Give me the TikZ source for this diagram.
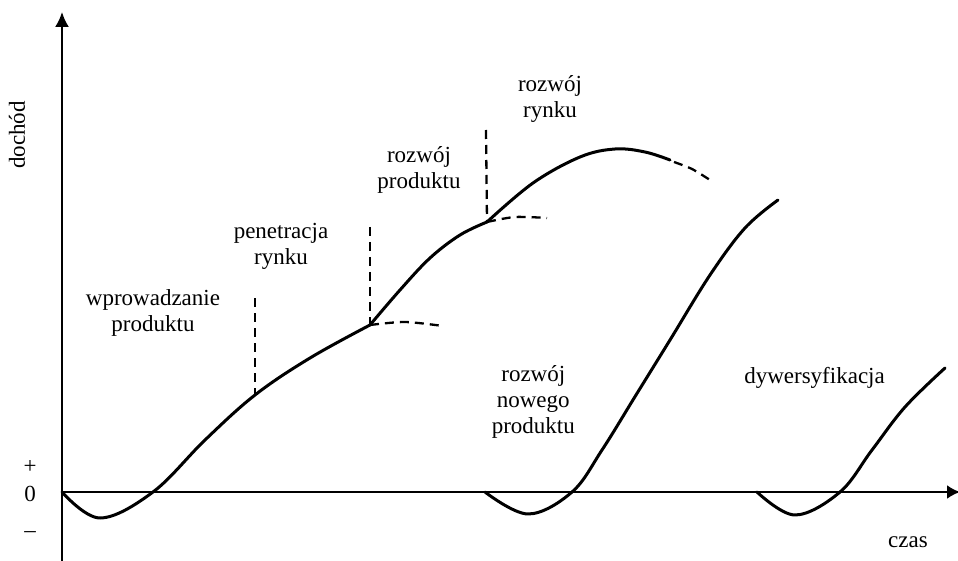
\documentclass[tikz,border=0pt]{standalone}
\usepackage{fontspec}
\setmainfont{Liberation Serif}
\usetikzlibrary{arrows.meta}
\begin{document}
\begin{tikzpicture}[x=1pt,y=-1pt,
  axis/.style={line width=2pt},
  curve/.style={line width=3pt, line join=round, line cap=round},
  guide/.style={line width=2.3pt, dash pattern=on 9pt off 6pt},
  lbl/.style={font=\fontsize{23pt}{26pt}\selectfont, align=center, inner sep=0pt},
]
\useasboundingbox (0,0) rectangle (958,561);
% axes
\coordinate (o) at (62,492);
\coordinate (ytop) at (62,12);
\coordinate (ybot) at (62,561);
\coordinate (xend) at (960,492);
\draw[axis,-{Latex[length=15pt,width=14pt]}] (ybot) -- (ytop);
\draw[axis,-{Latex[length=13pt,width=14pt]}] (o) -- (xend);
% key points
\coordinate (k1) at (255,395);
\coordinate (k2) at (370,325);
\coordinate (k3) at (487,222);
\coordinate (k4) at (670,160);
% main curve
\draw[curve] plot[smooth,tension=0.6] coordinates {(62,492) (100,518) (153,492) (205,440) (255,395) (310,358) (370,325)};
\draw[curve] plot[smooth,tension=0.6] coordinates {(370,325) (400,290) (430,258) (460,235) (487,222)};
\draw[curve] plot[smooth,tension=0.6] coordinates {(487,222) (533,183) (580,157) (615,149) (645,152) (670,160)};
% dashed continuations
\draw[guide] plot[smooth] coordinates {(k2) (405,322) (443,326)};
\draw[guide] plot[smooth] coordinates {(k3) (515,217) (547,218)};
\draw[guide] plot[smooth] coordinates {(674,162) (692,169) (710,180)};
% vertical dashed
\coordinate (v1) at (255,298);
\coordinate (v2) at (370,227);
\coordinate (v3) at (486,130);
\draw[guide] (v1) -- (k1);
\draw[guide] (v2) -- (k2);
\draw[guide] (v3) -- (k3);
% second and third curves
\draw[curve] plot[smooth,tension=0.6] coordinates {(485,492) (528,514) (572,492) (602,450) (636,395) (670,340) (710,275) (745,228) (778,200)};
\draw[curve] plot[smooth,tension=0.6] coordinates {(757,492) (795,515) (840,492) (872,450) (905,407) (945,368)};
% labels
\node[lbl] (wp) at (153,313) {wprowadzanie\\produktu};
\node[lbl] (pr) at (281,246) {penetracja\\rynku};
\node[lbl] (rp) at (419,170) {rozwój\\produktu};
\node[lbl] (rr) at (550,99) {rozwój\\rynku};
\node[lbl, anchor=east] (rn) at (575,402) {rozwój\\nowego\\produktu};
\node[lbl, anchor=east] (dy) at (885,378) {dywersyfikacja};
\node[lbl] (cz) at (908,542) {czas};
\node[lbl, rotate=90] (dc) at (17,135) {dochód};
\node[lbl] (plus) at (30,467) {+};
\node[lbl] (zero) at (30,494) {0};
\node[lbl] (minus) at (30,535) {–};
\end{tikzpicture}
\end{document}
